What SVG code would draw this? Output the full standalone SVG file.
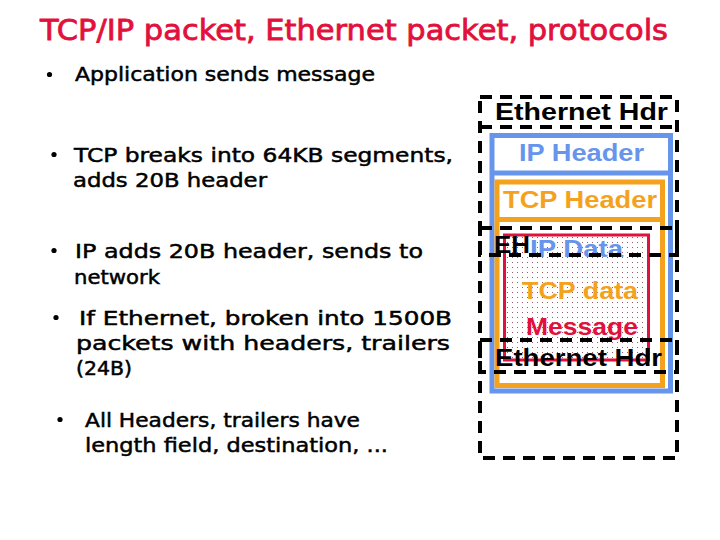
<svg xmlns="http://www.w3.org/2000/svg" width="720" height="540" viewBox="0 0 720 540">
  <defs>
    <pattern id="dots" width="5" height="5" patternUnits="userSpaceOnUse">
      <rect x="2" y="2" width="1" height="1" fill="#a05868"/>
    </pattern>
    <style>
      .title { font-family: "DejaVu Sans", "Liberation Sans", sans-serif; font-size: 29px; fill: #e2103c; stroke: #e2103c; stroke-width: 0.8px; }
      .bul { font-family: "DejaVu Sans", "Liberation Sans", sans-serif; font-size: 20px; fill: #000; stroke: #000; stroke-width: 0.5px; }
      .lbl { font-family: "Liberation Sans", Arial, sans-serif; font-size: 24px; font-weight: bold; }
      .dash { fill: none; stroke: #000; stroke-width: 4; stroke-dasharray: 12 8; }
      .blue { fill: none; stroke: #6795ec; stroke-width: 5; }
      .orange { fill: none; stroke: #f4a21e; stroke-width: 5; }
      .red { stroke: #e2103c; stroke-width: 3; }
    </style>
  </defs>
  <rect width="720" height="540" fill="#fff"/>

  <g id="title">
    <text class="title" x="40" y="40" textLength="628" lengthAdjust="spacingAndGlyphs">TCP/IP packet, Ethernet packet, protocols</text>
  </g>

  <g id="bullets">
    <circle cx="49.5" cy="74.5" r="2.6"/>
    <text class="bul" x="75" y="81" textLength="300" lengthAdjust="spacingAndGlyphs">Application sends message</text>
    <circle cx="54" cy="154.5" r="2.6"/>
    <text class="bul" x="74" y="162" textLength="379" lengthAdjust="spacingAndGlyphs">TCP breaks into 64KB segments,</text>
    <text class="bul" x="73" y="187" textLength="194" lengthAdjust="spacingAndGlyphs">adds 20B header</text>
    <circle cx="54" cy="250.5" r="2.6"/>
    <text class="bul" x="75" y="258" textLength="348" lengthAdjust="spacingAndGlyphs">IP adds 20B header, sends to</text>
    <text class="bul" x="74" y="284" textLength="86" lengthAdjust="spacingAndGlyphs">network</text>
    <circle cx="56" cy="317.5" r="2.6"/>
    <text class="bul" x="79" y="325" textLength="373" lengthAdjust="spacingAndGlyphs">If Ethernet, broken into 1500B</text>
    <text class="bul" x="76" y="350" textLength="374" lengthAdjust="spacingAndGlyphs">packets with headers, trailers</text>
    <text class="bul" x="76" y="375" textLength="56" lengthAdjust="spacingAndGlyphs">(24B)</text>
    <circle cx="60" cy="419.5" r="2.6"/>
    <text class="bul" x="85" y="427" textLength="275" lengthAdjust="spacingAndGlyphs">All Headers, trailers have</text>
    <text class="bul" x="85" y="452" textLength="303" lengthAdjust="spacingAndGlyphs">length field, destination, ...</text>
  </g>

  <g id="ip-packet">
    <rect class="blue" x="492" y="135.5" width="178.5" height="255.5"/>
    <line class="blue" x1="492" y1="173" x2="670.5" y2="173" stroke-width="6"/>
    <text class="lbl" x="519" y="161" fill="#6795ec" textLength="125" lengthAdjust="spacingAndGlyphs">IP Header</text>
  </g>

  <g id="tcp-segment">
    <rect class="orange" x="497" y="182" width="165.5" height="203.5"/>
    <line class="orange" x1="497" y1="219.5" x2="662.5" y2="219.5"/>
    <text class="lbl" x="503" y="208" fill="#f4a21e" textLength="154" lengthAdjust="spacingAndGlyphs">TCP Header</text>
  </g>

  <g id="message">
    <rect class="red" x="504.5" y="235" width="144" height="125" fill="url(#dots)"/>
    <text class="lbl" x="530" y="257" fill="#6795ec" textLength="93" lengthAdjust="spacingAndGlyphs">IP Data</text>
    <text class="lbl" x="522" y="299" fill="#f4a21e" textLength="116" lengthAdjust="spacingAndGlyphs">TCP data</text>
    <text class="lbl" x="526" y="335" fill="#e2103c" textLength="112" lengthAdjust="spacingAndGlyphs">Message</text>
  </g>

  <g id="ethernet-frames">
    <rect class="dash" x="480" y="97" width="197" height="361"/>
    <line class="dash" x1="480" y1="127" x2="677" y2="127"/>
    <text class="lbl" x="495" y="120" fill="#000" textLength="173" lengthAdjust="spacingAndGlyphs">Ethernet Hdr</text>
    <rect class="dash" x="480" y="228" width="197" height="27"/>
    <text class="lbl" x="494" y="253" fill="#000" textLength="36" lengthAdjust="spacingAndGlyphs">EH</text>
    <rect class="dash" x="480" y="340" width="197" height="32"/>
    <text class="lbl" x="495" y="366" fill="#000" textLength="167" lengthAdjust="spacingAndGlyphs">Ethernet Hdr</text>
  </g>
</svg>
